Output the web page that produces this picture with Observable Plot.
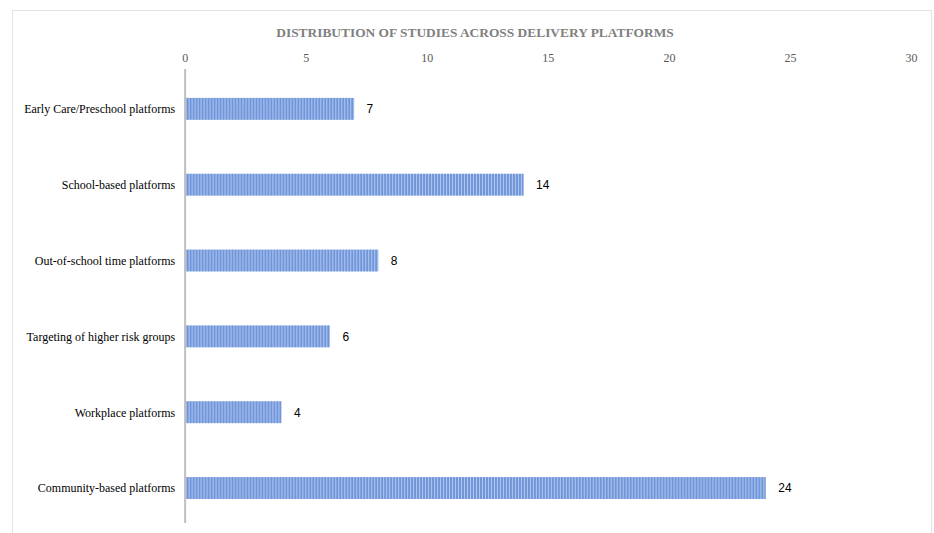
<!DOCTYPE html>
<html>
<head>
<meta charset="utf-8">
<script src="https://cdn.jsdelivr.net/npm/d3@7"></script>
<script src="https://cdn.jsdelivr.net/npm/@observablehq/plot@0.6"></script>
<style>
  html, body { margin: 0; padding: 0; background: #fff; }
  #box { position: absolute; left: 12px; top: 10px; width: 920px; height: 540px; border: 1px solid #e3e3e3; box-sizing: border-box; }
  #title { position: absolute; left: 0; top: 14px; width: 920px; padding-left: 4px; box-sizing: border-box; text-align: center;
           font-family: "Liberation Serif", "DejaVu Serif", serif; font-weight: bold; font-size: 13.4px; color: #808080; }
  #chart { position: absolute; left: 0; top: 35px; }
</style>
</head>
<body>
<div id="box">
  <div id="title">DISTRIBUTION OF STUDIES ACROSS DELIVERY PLATFORMS</div>
  <div id="chart"></div>
</div>
<script>
const categories = [
  "Early Care/Preschool platforms",
  "School-based platforms",
  "Out-of-school time platforms",
  "Targeting of higher risk groups",
  "Workplace platforms",
  "Community-based platforms"
];
const counts = [7, 14, 8, 6, 4, 24];
const xTicks = [0, 5, 10, 15, 20, 25, 30];

const data = categories.map((c, i) => ({category: c, count: counts[i]}));

const plot = Plot.plot({
  width: 920,
  height: 488,
  marginLeft: 172,
  marginRight: 20,
  marginTop: 23,
  marginBottom: 4,
  style: {fontFamily: "'Liberation Serif', 'DejaVu Serif', serif", fontSize: "12px", background: "transparent"},
  x: {domain: [0, 30], axis: null},
  y: {domain: categories, paddingInner: 0.71, paddingOuter: 0.355, axis: null},
  marks: [
    Plot.axisX({anchor: "top", ticks: xTicks, tickSize: 0, tickPadding: 7, color: "#595959", fontSize: 12, label: null}),
    Plot.axisY({anchor: "left", tickSize: 0, tickPadding: 10, fill: "#000", fontSize: 12, label: null}),
    Plot.barX(data, {x: "count", y: "category", fill: "url(#stripes)"}),
    Plot.ruleX([0], {stroke: "#bfbfbf", strokeWidth: 2, insetBottom: 6}),
    Plot.text(data, {x: "count", y: "category", text: d => String(d.count), dx: 12, textAnchor: "start",
      fontFamily: "'Liberation Sans', Arial, sans-serif", fontSize: 12, fill: "#000"})
  ]
});

// stripe pattern for bars
const ns = "http://www.w3.org/2000/svg";
const defs = document.createElementNS(ns, "defs");
const pat = document.createElementNS(ns, "pattern");
pat.setAttribute("id", "stripes");
pat.setAttribute("patternUnits", "userSpaceOnUse");
pat.setAttribute("width", "3");
pat.setAttribute("height", "4");
const r1 = document.createElementNS(ns, "rect");
r1.setAttribute("width", "3"); r1.setAttribute("height", "4"); r1.setAttribute("fill", "#b3c7ed");
const r2 = document.createElementNS(ns, "rect");
r2.setAttribute("width", "2"); r2.setAttribute("height", "4"); r2.setAttribute("fill", "#6f95da");
pat.appendChild(r1); pat.appendChild(r2);
defs.appendChild(pat);
plot.insertBefore(defs, plot.firstChild);

document.getElementById("chart").appendChild(plot);
</script>
</body>
</html>
